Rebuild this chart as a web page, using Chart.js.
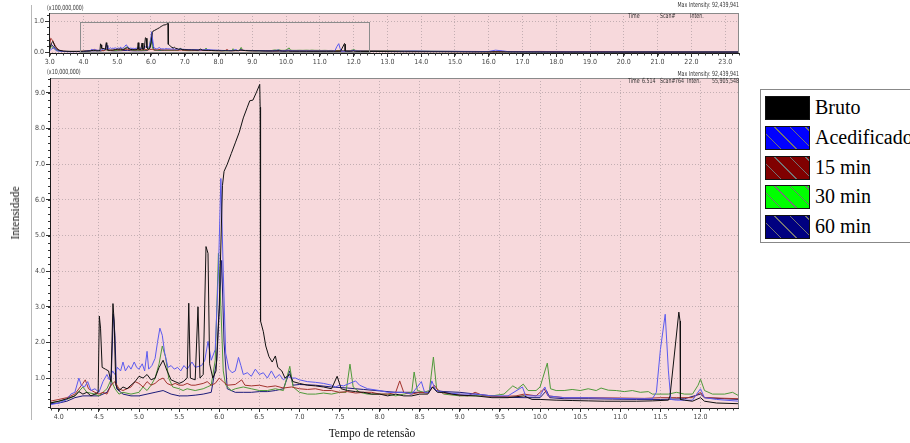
<!DOCTYPE html>
<html>
<head>
<meta charset="utf-8">
<script src="https://cdn.jsdelivr.net/npm/chart.js@4"></script>
<style>
  body { margin: 0; background: #fff; }
  #wrap { position: relative; width: 910px; height: 443px; overflow: hidden; }
  canvas { position: absolute; left: 0; }
  .sm { position: absolute; font: 7px 'Liberation Sans Narrow', 'DejaVu Sans Condensed', sans-serif; color: #333; white-space: nowrap; line-height: 8px; transform: scaleX(0.75); transform-origin: left top; }
  .sm.r { transform-origin: right top; }
  .ttl { position: absolute; font: 11.5px 'Liberation Serif', serif; color: #111; white-space: nowrap; }
  #legend { position: absolute; left: 760px; top: 89px; width: 170px; height: 152px; border: 1px solid #888; background: #fff; }
  .row { position: absolute; left: 4px; height: 24px; }
  .sw { position: absolute; left: 0; top: 0; width: 43px; height: 22px; border: 1px solid #111; }
  .lbl { position: absolute; left: 50px; top: -1px; font: 20px 'Liberation Serif', serif; line-height: 24px; color: #000; white-space: nowrap; }
</style>
</head>
<body>
<div id="wrap">
  <div style="position:absolute;left:31px;top:5px;width:1px;height:415px;background:#b8b8b8"></div>
  <canvas id="overview" width="910" height="70" style="top:0"></canvas>
  <canvas id="main" width="910" height="383" style="top:60px"></canvas>

  <div class="sm" style="left:47px;top:4px">(x100,000,000)</div>
  <div class="sm r" style="right:171px;top:1px">Max Intensity: 92,439,941</div>
  <div class="sm" style="left:628px;top:12px">Time</div>
  <div class="sm" style="left:660px;top:12px">Scan#</div>
  <div class="sm" style="left:690px;top:12px">Inten.</div>

  <div class="sm" style="left:47px;top:68px">(x10,000,000)</div>
  <div class="sm r" style="right:171px;top:70px">Max Intensity: 92,439,941</div>
  <div class="sm" style="left:628px;top:77px">Time</div>
  <div class="sm" style="left:642px;top:77px">6.514</div>
  <div class="sm" style="left:660px;top:77px">Scan#</div>
  <div class="sm" style="left:675px;top:77px">764</div>
  <div class="sm" style="left:687px;top:77px">Inten.</div>
  <div class="sm r" style="right:171px;top:77px">55,905,548</div>

  <div class="ttl" style="left:15px;top:213px;transform:translate(-50%,-50%) rotate(-90deg)">Intensidade</div>
  <div class="ttl" style="left:372px;top:433px;transform:translate(-50%,-50%)">Tempo de retensão</div>

  <div id="legend"></div>
</div>
<script>
// series names and colours
const seriesNames = ["Bruto", "Acedificado", "15 min", "30 min", "60 min"];
const lineColors = ["#111111", "#5b5bef", "#a3332e", "#4f9a3a", "#1c1c7a"];
const legendColors = ["#000000", "#0000ff", "#800000", "#00ff00", "#000080"];

// main panel: [time (min), intensity (x10,000,000)]
const brutoMain = [[3.89,0.3],[4.0,0.35],[4.1,0.42],[4.2,0.5],[4.25,0.62],[4.3,0.55],[4.35,0.6],[4.4,0.5],[4.45,0.55],[4.49,0.6],[4.505,2.74],[4.52,2.4],[4.54,1.3],[4.58,1.25],[4.62,1.2],[4.65,0.9],[4.675,3.09],[4.69,2.6],[4.71,0.8],[4.75,0.65],[4.8,0.75],[4.85,0.7],[4.9,0.8],[4.95,0.9],[5.0,1.05],[5.05,1.0],[5.1,1.1],[5.15,0.95],[5.2,1.0],[5.25,1.3],[5.3,1.5],[5.35,1.2],[5.4,0.95],[5.45,0.9],[5.5,0.85],[5.55,0.9],[5.6,1.0],[5.62,3.1],[5.64,1.0],[5.7,0.95],[5.735,3.0],[5.76,1.0],[5.8,1.1],[5.835,4.69],[5.86,4.5],[5.88,1.4],[5.92,1.0],[5.96,1.2],[6.0,3.0],[6.04,6.4],[6.06,6.8],[6.1,7.0],[6.15,7.3],[6.2,7.6],[6.25,7.9],[6.3,8.3],[6.35,8.6],[6.38,8.78],[6.42,8.8],[6.46,9.0],[6.505,9.24],[6.51,8.6],[6.515,2.6],[6.55,2.3],[6.58,1.9],[6.62,1.6],[6.66,1.45],[6.7,1.62],[6.73,1.3],[6.78,1.2],[6.82,1.0],[6.88,1.1],[6.92,0.9],[7.0,0.85],[7.1,0.8],[7.2,0.78],[7.3,0.75],[7.4,0.7],[7.47,1.05],[7.52,0.7],[7.6,0.65],[7.7,0.62],[7.8,0.6],[7.9,0.55],[8.0,0.55],[8.1,0.5],[8.2,0.55],[8.3,0.5],[8.4,0.5],[8.5,0.55],[8.6,0.55],[8.66,0.75],[8.72,0.6],[8.8,0.6],[8.9,0.55],[9.0,0.52],[9.2,0.5],[9.4,0.45],[9.6,0.45],[9.8,0.5],[9.9,0.4],[10.0,0.4],[10.2,0.38],[10.4,0.37],[10.6,0.36],[10.8,0.35],[11.0,0.35],[11.2,0.35],[11.4,0.36],[11.6,0.38],[11.62,0.5],[11.73,2.85],[11.745,2.6],[11.75,0.4],[11.8,0.38],[11.9,0.35],[12.0,0.45],[12.05,0.35],[12.2,0.3],[12.48,0.28]];
const acedMain = [[3.89,0.25],[4.0,0.3],[4.1,0.4],[4.15,0.55],[4.2,0.6],[4.25,1.0],[4.28,0.8],[4.32,0.75],[4.36,0.9],[4.4,0.65],[4.45,0.7],[4.5,0.6],[4.55,0.9],[4.6,1.1],[4.63,0.95],[4.67,1.2],[4.7,1.1],[4.73,1.3],[4.77,1.2],[4.8,1.45],[4.83,1.2],[4.87,1.35],[4.9,1.25],[4.94,1.45],[4.97,1.3],[5.0,1.25],[5.04,1.4],[5.07,1.2],[5.1,1.75],[5.12,1.25],[5.16,1.35],[5.2,1.55],[5.23,2.0],[5.26,2.4],[5.29,2.2],[5.32,1.7],[5.36,1.3],[5.4,1.35],[5.44,1.25],[5.48,1.3],[5.52,1.2],[5.56,1.35],[5.6,1.25],[5.66,1.45],[5.7,1.3],[5.78,1.35],[5.82,1.5],[5.86,2.03],[5.9,1.5],[5.95,1.8],[5.99,4.0],[6.02,6.6],[6.05,4.0],[6.08,1.7],[6.12,1.25],[6.16,1.15],[6.2,1.2],[6.24,1.58],[6.27,1.35],[6.3,1.1],[6.35,1.15],[6.4,1.05],[6.45,1.25],[6.5,1.1],[6.55,1.15],[6.6,1.0],[6.65,1.2],[6.7,1.0],[6.75,1.1],[6.8,0.95],[6.85,1.05],[6.9,1.0],[6.95,1.0],[7.0,0.95],[7.1,0.9],[7.2,0.88],[7.3,0.85],[7.4,0.8],[7.45,0.75],[7.5,0.8],[7.55,0.78],[7.7,0.92],[7.75,0.8],[7.85,0.7],[8.0,0.65],[8.1,0.6],[8.2,0.6],[8.3,0.6],[8.4,0.55],[8.52,0.9],[8.56,0.6],[8.62,0.6],[8.65,0.92],[8.7,0.65],[8.8,0.6],[9.0,0.55],[9.2,0.55],[9.4,0.5],[9.6,0.5],[9.78,0.75],[9.82,0.5],[10.0,0.5],[10.06,0.75],[10.1,0.5],[10.3,0.45],[10.6,0.45],[10.9,0.43],[11.2,0.42],[11.4,0.42],[11.45,0.6],[11.5,1.8],[11.56,2.79],[11.6,1.2],[11.63,0.4],[11.7,0.38],[11.9,0.38],[12.0,0.7],[12.05,0.45],[12.2,0.4],[12.48,0.35]];
const m15Main = [[3.89,0.35],[4.0,0.4],[4.1,0.45],[4.2,0.55],[4.3,0.85],[4.33,0.95],[4.37,0.7],[4.45,0.6],[4.5,0.55],[4.55,0.6],[4.6,0.55],[4.65,0.8],[4.7,0.9],[4.75,0.7],[4.8,0.65],[4.9,0.75],[4.95,0.9],[5.0,0.85],[5.05,0.75],[5.1,0.9],[5.15,0.8],[5.2,0.85],[5.25,0.95],[5.3,1.0],[5.35,0.85],[5.4,0.8],[5.45,0.85],[5.5,0.8],[5.55,0.8],[5.6,0.85],[5.65,0.8],[5.7,0.8],[5.8,0.85],[5.85,0.9],[5.9,0.8],[5.95,0.85],[6.0,1.0],[6.05,0.9],[6.1,0.8],[6.2,0.82],[6.28,0.95],[6.32,0.8],[6.4,0.78],[6.5,0.8],[6.6,0.75],[6.7,0.78],[6.8,0.72],[6.9,0.75],[7.0,0.7],[7.1,0.68],[7.2,0.7],[7.3,0.65],[7.4,0.65],[7.5,0.6],[7.6,0.62],[7.7,0.58],[7.8,0.6],[7.9,0.6],[8.0,0.55],[8.1,0.55],[8.2,0.6],[8.25,0.92],[8.3,0.6],[8.4,0.55],[8.5,0.6],[8.6,0.58],[8.68,0.8],[8.75,0.6],[8.9,0.55],[9.1,0.5],[9.19,0.6],[9.3,0.5],[9.5,0.48],[9.7,0.5],[9.8,0.55],[9.95,0.5],[10.05,0.7],[10.1,0.5],[10.3,0.45],[10.6,0.45],[11.0,0.44],[11.3,0.43],[11.5,0.45],[11.7,0.45],[11.9,0.45],[12.0,0.6],[12.05,0.45],[12.48,0.42]];
const m30Main = [[3.89,0.3],[4.0,0.35],[4.1,0.4],[4.2,0.5],[4.3,0.75],[4.35,0.6],[4.45,0.55],[4.5,0.5],[4.55,0.6],[4.6,0.7],[4.65,0.95],[4.7,0.7],[4.75,0.55],[4.8,0.6],[4.9,0.55],[5.0,0.6],[5.05,0.75],[5.1,0.65],[5.15,0.8],[5.2,1.0],[5.25,1.4],[5.29,1.9],[5.33,1.6],[5.37,1.0],[5.42,0.75],[5.5,0.7],[5.55,0.65],[5.6,0.7],[5.7,0.65],[5.8,0.7],[5.85,0.75],[5.9,0.8],[5.95,1.5],[5.99,4.5],[6.02,3.0],[6.05,1.2],[6.08,0.8],[6.15,0.65],[6.2,0.7],[6.3,0.75],[6.4,0.7],[6.5,0.65],[6.6,0.65],[6.7,0.7],[6.8,0.65],[6.88,1.33],[6.92,0.75],[7.0,0.6],[7.1,0.55],[7.2,0.55],[7.3,0.58],[7.4,0.55],[7.5,0.6],[7.58,0.6],[7.63,1.39],[7.67,0.75],[7.75,0.6],[7.85,0.55],[8.0,0.55],[8.1,0.55],[8.2,0.5],[8.3,0.55],[8.4,0.6],[8.43,1.17],[8.47,0.65],[8.55,0.6],[8.62,0.65],[8.67,1.59],[8.71,0.7],[8.8,0.55],[9.0,0.5],[9.2,0.5],[9.4,0.5],[9.55,0.55],[9.66,0.78],[9.72,0.7],[9.79,0.83],[9.85,0.65],[9.95,0.65],[10.0,0.75],[10.09,1.42],[10.13,0.7],[10.2,0.65],[10.3,0.65],[10.4,0.68],[10.5,0.65],[10.6,0.7],[10.7,0.65],[10.76,0.72],[10.85,0.66],[10.95,0.65],[11.05,0.62],[11.15,0.65],[11.25,0.6],[11.35,0.62],[11.4,0.55],[11.45,0.55],[11.6,0.55],[11.7,0.6],[11.8,0.55],[11.9,0.55],[11.97,0.8],[12.0,0.97],[12.05,0.65],[12.15,0.55],[12.3,0.55],[12.4,0.6],[12.48,0.5]];
const m60Main = [[3.89,0.28],[4.0,0.3],[4.1,0.35],[4.2,0.45],[4.3,0.5],[4.4,0.5],[4.5,0.5],[4.6,0.6],[4.65,0.8],[4.68,2.8],[4.7,2.2],[4.72,0.7],[4.8,0.55],[4.9,0.5],[5.0,0.5],[5.1,0.55],[5.2,0.6],[5.3,0.65],[5.4,0.55],[5.5,0.5],[5.6,0.5],[5.7,0.52],[5.8,0.55],[5.9,0.6],[5.97,1.5],[6.03,4.3],[6.06,2.0],[6.1,0.7],[6.2,0.6],[6.3,0.6],[6.4,0.6],[6.5,0.62],[6.6,0.62],[6.7,0.65],[6.8,0.7],[6.88,1.2],[6.92,0.8],[7.0,0.82],[7.2,0.8],[7.4,0.75],[7.6,0.72],[7.8,0.68],[8.0,0.64],[8.2,0.6],[8.4,0.6],[8.6,0.6],[8.66,0.75],[8.7,0.65],[8.8,0.62],[9.0,0.6],[9.2,0.55],[9.4,0.5],[9.6,0.46],[9.8,0.45],[10.0,0.45],[10.08,0.65],[10.12,0.45],[10.3,0.42],[10.6,0.42],[10.9,0.41],[11.2,0.4],[11.5,0.4],[11.8,0.42],[12.0,0.55],[12.05,0.45],[12.3,0.42],[12.48,0.4]];

// overview panel outside the zoomed window: [time, intensity (x100,000,000)]
const brutoEarly = [[2.98,0.05],[3.05,0.3],[3.1,0.35],[3.15,0.2],[3.25,0.08],[3.4,0.04],[3.6,0.03],[3.8,0.03]];
const acedEarly = [[2.98,0.04],[3.05,0.1],[3.12,0.15],[3.2,0.05],[3.4,0.03],[3.6,0.02],[3.8,0.025]];
const m15Early = [[2.98,0.1],[3.03,0.45],[3.08,0.4],[3.12,0.3],[3.2,0.15],[3.3,0.05],[3.5,0.03],[3.8,0.03]];
const m30Early = [[2.98,0.05],[3.05,0.2],[3.1,0.15],[3.2,0.06],[3.4,0.03],[3.8,0.03]];
const m60Early = [[2.98,0.06],[3.05,0.25],[3.1,0.2],[3.2,0.08],[3.4,0.03],[3.8,0.03]];
const brutoLate = [[12.6,0.03],[13.5,0.02],[14.5,0.02],[15.5,0.015],[16.5,0.015],[18,0.01],[20,0.01],[23.4,0.01]];
const acedLate = [[12.6,0.035],[13.2,0.03],[13.8,0.04],[14.3,0.03],[15.0,0.03],[15.6,0.02],[16.0,0.03],[16.2,0.07],[16.4,0.05],[16.6,0.02],[18,0.015],[23.4,0.01]];
const m15Late = [[12.6,0.04],[14,0.03],[16,0.02],[17.5,0.03],[18.5,0.02],[19.2,0.03],[20,0.015],[23.4,0.01]];
const m30Late = [[12.6,0.05],[13.5,0.04],[15,0.03],[16.5,0.02],[18,0.02],[23.4,0.01]];
const m60Late = [[12.6,0.04],[14,0.035],[15.5,0.03],[17,0.02],[19,0.015],[23.4,0.01]];

// window shown in the main panel, drawn as a box on the overview
const zoomBox = [3.9, 12.45, 0, 0.97];

const mainSeries = [brutoMain, acedMain, m15Main, m30Main, m60Main];
const earlySeries = [brutoEarly, acedEarly, m15Early, m30Early, m60Early];
const lateSeries = [brutoLate, acedLate, m15Late, m30Late, m60Late];

const smallFont = { family: "'Liberation Sans Narrow','DejaVu Sans Condensed',sans-serif", size: 7 };

const panelPlugin = {
  id: "panel",
  beforeDraw(chart, args, opts) {
    const { ctx, chartArea: a } = chart;
    ctx.save();
    ctx.fillStyle = "#f7d9dc";
    ctx.fillRect(a.left, a.top, a.right - a.left, a.bottom - a.top);
    ctx.restore();
  },
  afterDraw(chart, args, opts) {
    const { ctx, chartArea: a, scales } = chart;
    const x = scales.x, y = scales.y;
    ctx.save();
    if (opts.box) {
      const b = opts.box;
      ctx.strokeStyle = "#8c8c8c";
      ctx.lineWidth = 1;
      const x1 = Math.round(x.getPixelForValue(b[0])) + 0.5;
      const x2 = Math.round(x.getPixelForValue(b[1])) + 0.5;
      const y1 = Math.round(y.getPixelForValue(b[3])) + 0.5;
      const y2 = Math.round(y.getPixelForValue(b[2])) + 0.5;
      ctx.strokeRect(x1, y1, x2 - x1, y2 - y1);
    }
    ctx.strokeStyle = "#8a8a8a";
    ctx.lineWidth = 1;
    ctx.strokeRect(a.left + 0.5, a.top + 0.5, a.right - a.left - 1, a.bottom - a.top);
    ctx.strokeStyle = "#1a1a1a";
    ctx.beginPath();
    ctx.moveTo(a.left + 0.5, a.top);
    ctx.lineTo(a.left + 0.5, a.bottom + 0.5);
    ctx.lineTo(a.right, a.bottom + 0.5);
    ctx.stroke();
    // minor ticks
    ctx.strokeStyle = "#333";
    ctx.beginPath();
    for (let i = Math.ceil(x.min / opts.minorX); i * opts.minorX <= x.max; i++) {
      const px = Math.round(x.getPixelForValue(i * opts.minorX)) + 0.5;
      ctx.moveTo(px, a.bottom);
      ctx.lineTo(px, a.bottom + 2.5);
    }
    for (let i = Math.ceil(y.min / opts.minorY); i * opts.minorY <= y.max; i++) {
      const py = Math.round(y.getPixelForValue(i * opts.minorY)) + 0.5;
      ctx.moveTo(a.left - 2, py);
      ctx.lineTo(a.left, py);
    }
    ctx.stroke();
    ctx.restore();
  },
};

function axis(min, max, step, size, horizontal) {
  return {
    type: "linear",
    min: min,
    max: max,
    border: { display: false, dash: [1, 2] },
    grid: { color: "#c3aeb2", lineWidth: 1, drawTicks: true, tickLength: 4, tickColor: "#333" },
    ticks: {
      stepSize: step,
      autoSkip: false,
      includeBounds: false,
      maxRotation: 0,
      padding: 1,
      color: "#444",
      font: smallFont,
      callback: (v) => Number(v).toFixed(1),
    },
    afterFit(scale) {
      if (horizontal) scale.height = size;
      else scale.width = size;
    },
  };
}

function buildDatasets(getData) {
  return seriesNames.map((name, i) => ({
    label: name,
    data: getData(i).map(([t, v]) => ({ x: t, y: v })),
    borderColor: lineColors[i],
    borderWidth: 1,
    pointRadius: 0,
    tension: 0,
    fill: false,
  }));
}

function baseOptions(padding, xAxis, yAxis, panel) {
  return {
    responsive: false,
    animation: false,
    devicePixelRatio: 1,
    layout: { padding: padding },
    plugins: { legend: { display: false }, tooltip: { enabled: false }, panel: panel },
    scales: { x: xAxis, y: yAxis },
  };
}

new Chart(document.getElementById("overview"), {
  type: "line",
  data: {
    datasets: buildDatasets((i) =>
      earlySeries[i].concat(mainSeries[i].map(([t, v]) => [t, v / 10]), lateSeries[i])
    ),
  },
  options: baseOptions(
    { left: 29, right: 171, top: 13, bottom: 5 },
    axis(2.98, 23.41, 1, 12, true),
    axis(-0.02, 1.26, 1, 20, false),
    { minorX: 0.2, minorY: 0.2, box: zoomBox }
  ),
  plugins: [panelPlugin],
});

new Chart(document.getElementById("main"), {
  type: "line",
  data: { datasets: buildDatasets((i) => mainSeries[i]) },
  options: baseOptions(
    { left: 30, right: 171, top: 18, bottom: 21 },
    axis(3.89, 12.48, 0.5, 14, true),
    axis(0.16, 9.42, 1, 20, false),
    { minorX: 0.1, minorY: 0.2 }
  ),
  plugins: [panelPlugin],
});

// legend with hatched swatches
const legend = document.getElementById("legend");
seriesNames.forEach((name, i) => {
  const row = document.createElement("div");
  row.className = "row";
  row.style.top = (6 + i * 29.8) + "px";
  const sw = document.createElement("div");
  sw.className = "sw";
  sw.style.background = i === 0 ? legendColors[i]
    : `repeating-linear-gradient(45deg, ${legendColors[i]} 0 10px, rgba(0,0,0,0.55) 10px 11px)`;
  const lbl = document.createElement("div");
  lbl.className = "lbl";
  lbl.textContent = name;
  row.appendChild(sw);
  row.appendChild(lbl);
  legend.appendChild(row);
});
</script>
</body>
</html>
